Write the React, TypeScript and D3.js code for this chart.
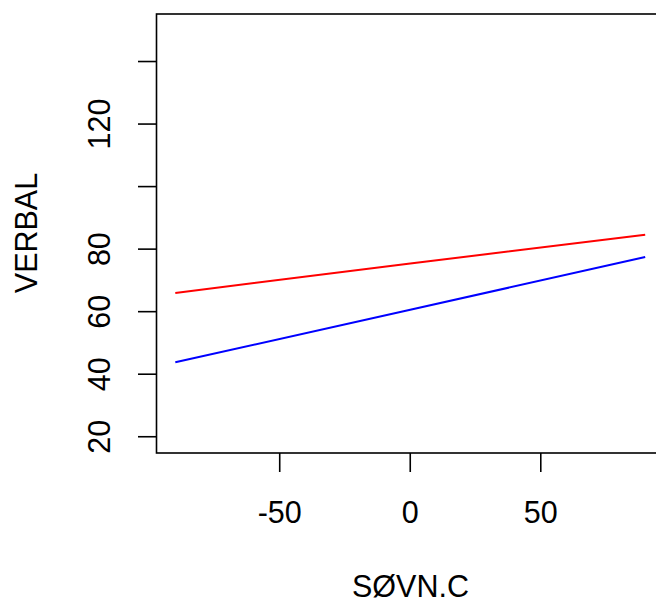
import React from "react";
import * as d3 from "d3";

const sovnC = [-90, 0, 90];
const verbalRed = [66.0, 75.4, 84.6];
const verbalBlue = [43.8, 60.6, 77.5];
const xTicks = [-50, 0, 50];
const yTicks = [20, 40, 60, 80, 100, 120, 140];
const yTickLabels = ["20", "40", "60", "80", "", "120", ""];

export default function App() {
  const W = 656, H = 604;
  const x = d3.scaleLinear().domain([-97.2, 97.2]).range([156.5, 664]);
  const y = d3.scaleLinear().domain([14.8, 155.2]).range([453, 14]);
  const line = d3.line<[number, number]>().x(d => x(d[0])).y(d => y(d[1]));
  const red = line(sovnC.map((v, i) => [v, verbalRed[i]] as [number, number])) || "";
  const blue = line(sovnC.map((v, i) => [v, verbalBlue[i]] as [number, number])) || "";
  const font = "'Liberation Sans', Arial, sans-serif";
  const fs = 30.5;
  return (
    <svg width={W} height={H} style={{ position: "fixed", left: 0, top: 0, background: "#fff" }}>
      <rect x={0} y={0} width={W} height={H} fill="#fff" />
      <path d={red} stroke="#ff0000" strokeWidth={2} fill="none" />
      <path d={blue} stroke="#0000ff" strokeWidth={2} fill="none" />
      <rect x={x(-97.2)} y={y(155.2)} width={x(97.2) - x(-97.2)} height={y(14.8) - y(155.2)} fill="none" stroke="#000" strokeWidth={1.6} />
      {xTicks.map(t => (
        <g key={t}>
          <line x1={x(t)} x2={x(t)} y1={453} y2={472} stroke="#000" strokeWidth={1.6} />
          <text x={x(t)} y={523} textAnchor="middle" fontFamily={font} fontSize={fs}>{t}</text>
        </g>
      ))}
      {yTicks.map((t, i) => (
        <g key={t}>
          <line x1={138} x2={156.5} y1={y(t)} y2={y(t)} stroke="#000" strokeWidth={1.6} />
          {yTickLabels[i] && (
            <text transform={`translate(110,${y(t)}) rotate(-90)`} textAnchor="middle" fontFamily={font} fontSize={fs}>{yTickLabels[i]}</text>
          )}
        </g>
      ))}
      <text x={410.5} y={597} textAnchor="middle" fontFamily={font} fontSize={fs}>SØVN.C</text>
      <text transform={`translate(37,233) rotate(-90)`} textAnchor="middle" fontFamily={font} fontSize={fs}>VERBAL</text>
    </svg>
  );
}
